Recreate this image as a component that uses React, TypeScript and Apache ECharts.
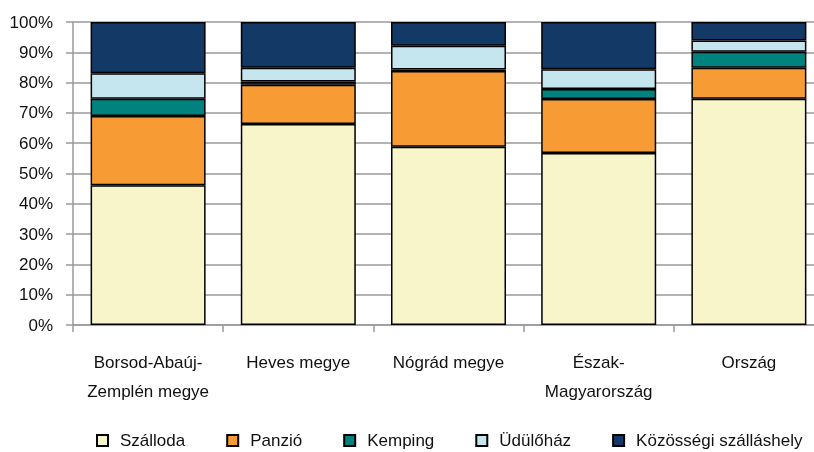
import React, { useEffect, useRef } from "react";
import * as echarts from "echarts";

const categories = ["Borsod-Abaúj-\nZemplén megye", "Heves megye", "Nógrád megye", "Észak-\nMagyarország", "Ország"];
const seriesNames = ["Szálloda", "Panzió", "Kemping", "Üdülőház", "Közösségi szálláshely"];
const szalloda = [46.1, 66.3, 58.8, 56.8, 74.7];
const panzio = [22.9, 13.0, 25.0, 17.8, 10.2];
const kemping = [5.7, 1.1, 0.5, 3.3, 5.3];
const udulohaz = [8.4, 4.5, 7.9, 6.5, 3.7];
const kozossegi = [16.9, 15.1, 7.8, 15.6, 6.1];
const colors = ["#F8F5CB", "#F79B34", "#00827F", "#C5E6EE", "#133A66"];

const FONT = "'Liberation Sans', Arial, sans-serif";

export default function App() {
  const ref = useRef<HTMLDivElement>(null);
  useEffect(() => {
    if (!ref.current) return;
    const chart = echarts.init(ref.current, null, { renderer: "svg" });
    const data = [szalloda, panzio, kemping, udulohaz, kozossegi];
    chart.setOption({
      animation: false,
      textStyle: { fontFamily: FONT },
      grid: { left: 73, top: 22, width: 751, height: 303 },
      legend: {
        left: 96,
        top: 431,
        padding: 0,
        itemWidth: 11,
        itemHeight: 11,
        itemGap: 41,
        icon: "rect",
        textStyle: { fontFamily: FONT, fontSize: 17, lineHeight: 19, color: "#111", padding: [0, 0, 0, 7] },
        data: seriesNames,
      },
      xAxis: {
        type: "category",
        data: categories,
        axisLine: { lineStyle: { color: "#9a9a9a", width: 1.5 } },
        axisTick: { show: true, length: 7, lineStyle: { color: "#9a9a9a", width: 1.5 } },
        axisLabel: { fontFamily: FONT, fontSize: 17, color: "#111", margin: 23, lineHeight: 29, interval: 0 },
      },
      yAxis: {
        type: "value",
        min: 0,
        max: 100,
        interval: 10,
        axisLine: { show: true, lineStyle: { color: "#9a9a9a", width: 1.5 } },
        axisTick: { show: true, length: 7, lineStyle: { color: "#9a9a9a", width: 1.5 } },
        splitLine: { lineStyle: { color: "#9a9a9a", width: 1.5 } },
        axisLabel: { fontFamily: FONT, fontSize: 17, color: "#111", margin: 20, formatter: "{value}%" },
      },
      series: seriesNames.map((name, i) => ({
        name,
        type: "bar",
        stack: "total",
        data: data[i],
        barWidth: 115,
        itemStyle: { color: colors[i], borderColor: "#000", borderWidth: 1.5 },
      })),
    });
    return () => chart.dispose();
  }, []);
  return (
    <div style={{ position: "fixed", left: 0, top: 0, width: 814, height: 452, overflow: "hidden" }}>
      <div ref={ref} style={{ width: 840, height: 452 }} />
    </div>
  );
}
